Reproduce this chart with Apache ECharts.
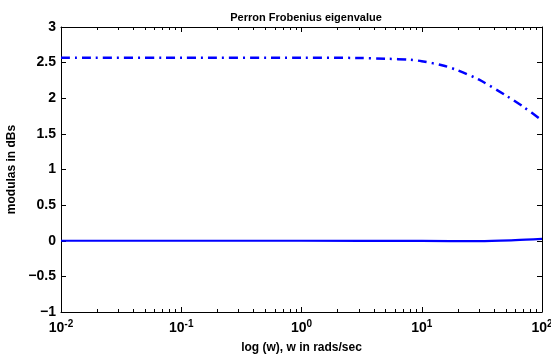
<!DOCTYPE html>
<html lang="en">
<head>
    <meta charset="UTF-8"/>
    <title>Perron Frobenius eigenvalue</title>
    <script src="https://cdn.jsdelivr.net/npm/echarts@6/dist/echarts.min.js"></script>
    <style>
        html, body { margin: 0; padding: 0; background: #fff; }
        #chart { width: 551px; height: 358px; }
    </style>
</head>
<body>
<div id="chart"></div>
<script type="text/javascript">
    // frequency (rad/s) and modulus (dB)
    var wUpper = [0.01, 0.1, 1, 3, 5, 8, 10, 15, 20, 30, 50, 70, 100];
    var magUpper = [2.57, 2.57, 2.57, 2.565, 2.555, 2.54, 2.52, 2.46, 2.39, 2.26, 2.04, 1.88, 1.69];
    var wLower = [0.01, 1, 10, 30, 60, 100];
    var magLower = [0, 0, -0.003, -0.005, 0.008, 0.025];
    var yTicks = [-1, -0.5, 0, 0.5, 1, 1.5, 2, 2.5, 3];

    function pairs(xs, ys) {
        return xs.map(function (x, i) { return [x, ys[i]]; });
    }

    var font = 'Liberation Sans, Arial, sans-serif';
    var myChart = echarts.init(document.getElementById('chart'));
    var option = {
        animation: false,
        title: {
            text: 'Perron Frobenius eigenvalue',
            left: 301, top: 7, textAlign: 'center',
            textStyle: { fontFamily: font, fontSize: 11, fontWeight: 'bold', color: '#000' }
        },
        grid: { left: 61, right: 9, top: 27, bottom: 46, outerBoundsMode: 'none', containLabel: false },
        xAxis: [{
            type: 'log', logBase: 10, min: 0.01, max: 100,
            name: 'log (w), w in rads/sec', nameLocation: 'middle', nameGap: 30,
            nameTextStyle: { fontFamily: font, fontSize: 12, fontWeight: 'bold', color: '#000' },
            axisLine: { onZero: false, lineStyle: { color: '#000', width: 1 } },
            axisTick: { inside: true, length: 5, lineStyle: { color: '#000' } },
            minorTick: { show: true, splitNumber: 9, length: 3, lineStyle: { color: '#000' } },
            splitLine: { show: false },
            axisLabel: {
                margin: 7, color: '#000',
                formatter: function (v) {
                    var e = Math.round(Math.log10(v));
                    return '{b|10}{s|' + e + '}';
                },
                rich: {
                    b: { fontFamily: font, fontSize: 14, fontWeight: 'bold', color: '#000' },
                    s: { fontFamily: font, fontSize: 10, fontWeight: 'bold', color: '#000', verticalAlign: 'top', padding: [0, 0, 9, 0] }
                }
            }
        }, {
            type: 'log', logBase: 10, min: 0.01, max: 100, position: 'top',
            axisLine: { onZero: false, lineStyle: { color: '#000', width: 1 } },
            axisTick: { inside: true, length: 5, lineStyle: { color: '#000' } },
            minorTick: { show: true, splitNumber: 9, length: 3, lineStyle: { color: '#000' } },
            axisLabel: { show: false }, splitLine: { show: false }
        }],
        yAxis: [{
            type: 'value', min: -1, max: 3, interval: 0.5,
            name: 'modulas in dBs', nameLocation: 'middle', nameGap: 40,
            nameTextStyle: { fontFamily: font, fontSize: 12, fontWeight: 'bold', color: '#000' },
            axisLine: { show: true, onZero: false, lineStyle: { color: '#000', width: 1 } },
            axisTick: { show: true, inside: true, length: 5, lineStyle: { color: '#000' } },
            splitLine: { show: false },
            axisLabel: {
                margin: 5, color: '#000',
                formatter: function (v) {
                    var t = yTicks.filter(function (k) { return Math.abs(k - v) < 1e-9; })[0];
                    return '{n|' + (t < 0 ? '\u2212' + String(-t) : String(t)) + '}';
                },
                rich: {
                    n: { fontFamily: font, fontSize: 14, fontWeight: 'bold', color: '#000' }
                }
            }
        }, {
            type: 'value', min: -1, max: 3, interval: 0.5, position: 'right',
            axisLine: { show: true, onZero: false, lineStyle: { color: '#000', width: 1 } },
            axisTick: { show: true, inside: true, length: 5, lineStyle: { color: '#000' } },
            axisLabel: { show: false }, splitLine: { show: false }
        }],
        series: [{
            type: 'line', data: pairs(wUpper, magUpper), smooth: 0.3,
            showSymbol: false,
            lineStyle: { color: '#0000ff', width: 2.5, type: [9, 5, 2, 5] }
        }, {
            type: 'line', data: pairs(wLower, magLower), smooth: 0.3,
            showSymbol: false,
            lineStyle: { color: '#0000ff', width: 2.2 }
        }]
    };
    myChart.setOption(option);
</script>
</body>
</html>
